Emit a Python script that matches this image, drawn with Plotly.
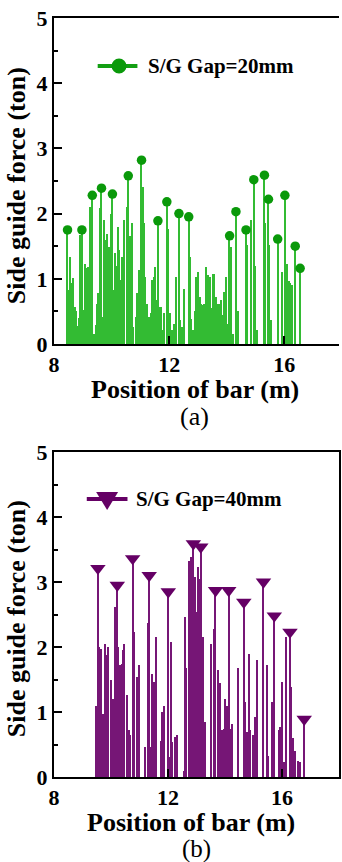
import plotly.graph_objects as go

# ---- S/G gap 20 mm: side guide force samples along the bar (m, ton) ----
gap20_pos = [8.49, 8.56, 8.63, 8.68, 8.72, 8.77, 8.82, 8.86, 8.92, 9.00, 9.04, 9.09,
             9.15, 9.20, 9.26, 9.40, 9.46, 9.51, 9.55, 9.61, 9.69, 9.73, 9.78, 9.85,
             9.90, 9.98, 10.07, 10.11, 10.15, 10.22, 10.28, 10.33, 10.38, 10.45, 10.53,
             10.63, 10.70, 10.76, 10.84, 10.90, 10.96, 11.08, 11.13, 11.18, 11.24, 11.30,
             11.36, 11.41, 11.47, 11.52, 11.56, 11.66, 11.71, 11.76, 11.82, 11.96, 12.00,
             12.04, 12.10, 12.17, 12.23, 12.38, 12.42, 12.46, 12.53, 12.73, 12.78, 12.83,
             12.89, 12.94, 13.00, 13.06, 13.11, 13.17, 13.23, 13.28, 13.32, 13.37, 13.41,
             13.48, 13.53, 13.58, 13.63, 13.69, 13.75, 13.80, 13.86, 13.92, 13.98, 14.04,
             14.14, 14.17, 14.21, 14.40, 14.71, 14.84, 14.98, 15.06, 15.34, 15.48, 15.54,
             15.91, 16.06, 16.10, 16.16, 16.22, 16.27]
gap20_force = [0.83, 1.34, 0.93, 1.01, 0.57, 0.50, 0.27, 0.40, 1.67, 0.52, 0.21, 1.22,
               1.16, 1.18, 2.10, 0.16, 0.29, 0.62, 0.78, 2.09, 0.42, 1.90, 1.60, 1.68,
               1.49, 2.00, 0.83, 1.39, 1.19, 1.80, 1.44, 0.98, 1.34, 1.90, 2.10,
               1.65, 1.85, 0.26, 0.42, 0.78, 1.14, 2.41, 1.85, 1.03, 0.62, 0.42,
               0.47, 0.98, 1.03, 1.18, 0.67, 0.57, 0.57, 0.21, 0.47, 1.77, 0.26,
               0.47, 0.21, 0.30, 1.03, 0.37, 0.16, 0.26, 0.85, 1.34, 0.39, 0.21,
               0.50, 1.03, 1.11, 0.72, 0.62, 0.60, 0.62, 1.18, 0.24, 1.06, 1.03,
               0.55, 1.08, 1.08, 0.72, 0.62, 0.62, 0.67, 0.45, 0.80, 1.03, 0.30,
               1.08, 1.49, 0.16, 0.50, 1.52, 1.90, 1.20, 0.21, 1.85, 1.52, 0.37,
               1.11, 1.03, 1.23, 0.96, 0.93, 0.90]
# local peaks of the 20 mm case (marked with circles)
gap20_peak_pos = [8.47, 8.97, 9.33, 9.65, 10.03, 10.58, 11.04, 11.61, 11.92, 12.34, 12.68,
                  14.10, 14.32, 14.67, 14.94, 15.31, 15.45, 15.77, 16.02, 16.38, 16.55]
gap20_peak_force = [1.75, 1.75, 2.28, 2.39, 2.30, 2.58, 2.82, 1.89, 2.18, 2.00, 1.95,
                    1.66, 2.03, 1.75, 2.52, 2.59, 2.22, 1.61, 2.28, 1.50, 1.16]

# ---- S/G gap 40 mm ----
gap40_pos = [9.49, 9.60, 9.64, 9.72, 9.78, 9.81, 9.86, 9.89, 10.01, 10.07, 10.13, 10.16,
             10.25, 10.30, 10.33, 10.39, 10.43, 10.47, 10.55, 10.62, 10.67, 10.81, 10.90,
             11.00, 11.20, 11.29, 11.39, 11.46, 11.52, 11.60, 11.75, 11.81, 11.87, 12.07,
             12.12, 12.16, 12.24, 12.31, 12.56, 12.60, 12.64, 12.74, 12.82, 12.95, 13.01,
             13.06, 13.10, 13.18, 13.24, 13.30, 13.53, 13.61, 13.75, 13.84, 13.90, 13.96,
             14.02, 14.07, 14.19, 14.25, 14.46, 14.72, 14.77, 14.83, 14.89, 15.00, 15.06,
             15.13, 15.47, 15.50, 15.64, 15.90, 15.94, 16.02, 16.08, 16.16, 16.32, 16.40,
             16.46, 16.57, 16.63]
gap40_force = [1.10, 2.00, 1.97, 0.97, 2.05, 0.97, 1.87, 2.00, 1.49, 1.20, 2.62, 2.05,
               2.00, 1.69, 1.72, 1.74, 1.95, 2.04, 1.26, 0.72, 0.64, 2.23, 1.54,
               1.72, 0.46, 2.37, 0.46, 1.59, 1.46, 2.15, 0.56, 1.00, 1.10, 0.31,
               2.08, 0.54, 0.62, 0.64, 0.10, 2.46, 1.67, 3.33, 3.38, 3.08, 2.54,
               3.23, 3.05, 3.38, 2.15, 0.85, 2.05, 2.28, 1.64, 1.44, 0.72, 0.74,
               1.20, 1.10, 0.74, 0.82, 1.67, 1.16, 0.70, 1.90, 0.72, 0.64, 0.93,
               1.80, 1.72, 0.33, 1.15, 0.72, 0.77, 1.46, 0.23, 2.15, 1.39, 0.60,
               0.40, 0.25, 0.23]
gap40_peak_pos = [9.54, 10.22, 10.76, 11.34, 12.01, 12.89, 13.15, 13.67, 14.13, 14.66,
                  15.35, 15.73, 16.28, 16.78]
gap40_peak_force = [3.21, 2.95, 3.36, 3.10, 2.85, 3.59, 3.54, 2.87, 2.87, 2.69,
                    3.00, 2.48, 2.23, 0.89]

series_names = ["S/G Gap=20mm", "S/G Gap=40mm"]

GREEN_BAR, GREEN_MK = "#33bb33", "#0a990a"
PURPLE_BAR, PURPLE_MK = "#761676", "#650065"
SERIF = "Liberation Serif"
BAR_W = 0.045

W, H = 342, 862
ML, MR, MT, MB = 54, 1, 18, 85
PW, PH = W - ML - MR, H - MT - MB


def px_x(px):
    """Horizontal pixel -> paper fraction."""
    return (px - ML) / PW


def px_y(py):
    """Vertical pixel (from top) -> paper fraction."""
    return (H - MB - py) / PH


fig = go.Figure()

# 20 mm: stems (samples + peaks) and peak circles
fig.add_trace(go.Bar(x=gap20_pos + gap20_peak_pos, y=gap20_force + gap20_peak_force,
                     width=BAR_W, marker=dict(color=GREEN_BAR, line=dict(width=0)),
                     name=series_names[0], xaxis="x", yaxis="y"))
fig.add_trace(go.Scatter(x=gap20_peak_pos, y=gap20_peak_force, mode="markers",
                         marker=dict(symbol="circle", size=9.5, color=GREEN_MK),
                         name=series_names[0], xaxis="x", yaxis="y"))

# 40 mm: stems and peak triangles
fig.add_trace(go.Bar(x=gap40_pos + gap40_peak_pos, y=gap40_force + gap40_peak_force,
                     width=BAR_W, marker=dict(color=PURPLE_BAR, line=dict(width=0)),
                     name=series_names[1], xaxis="x2", yaxis="y2"))
fig.add_trace(go.Scatter(x=gap40_peak_pos, y=gap40_peak_force, mode="markers",
                         marker=dict(symbol="triangle-down", size=13.5, color=PURPLE_MK),
                         name=series_names[1], xaxis="x2", yaxis="y2"))

tick_font = dict(family=SERIF, size=22, color="black", weight="bold")
common_x = dict(tickvals=[8, 12, 16], ticks="inside", ticklen=8, tickwidth=2,
                tickcolor="black", showline=True, linewidth=2, linecolor="black",
                showgrid=False, zeroline=False, tickfont=tick_font, mirror=True)
common_y = dict(range=[0, 5], dtick=1, ticks="inside", ticklen=8, tickwidth=2,
                tickcolor="black", showline=True, linewidth=2, linecolor="black",
                showgrid=False, zeroline=False, tickfont=tick_font,
                minor=dict(dtick=0.5, ticks="inside", ticklen=4, tickwidth=1.5,
                           tickcolor="black", showgrid=False))

fig.update_layout(
    width=W, height=H,
    margin=dict(l=ML, r=MR, t=MT, b=MB),
    plot_bgcolor="white", paper_bgcolor="white",
    barmode="overlay", bargap=0, showlegend=False,
    xaxis=dict(domain=[0, 1], anchor="y", range=[8, 17.9], **common_x),
    yaxis=dict(domain=[px_y(344), 1], anchor="x", mirror=False, **common_y),
    xaxis2=dict(domain=[0, 1], anchor="y2", range=[8, 18], **common_x),
    yaxis2=dict(domain=[0, px_y(452)], anchor="x2", mirror=True, **common_y),
)

# legend boxes: line + symbol + label, placed in the upper-left of each panel
legend_font = dict(family=SERIF, size=21, color="black", weight="bold")
shapes = [
    dict(type="line", xref="paper", yref="paper", x0=px_x(98), x1=px_x(138),
         y0=px_y(66), y1=px_y(66), line=dict(color="#139f13", width=4)),
    dict(type="circle", xref="paper", yref="paper", xsizemode="pixel", ysizemode="pixel",
         xanchor=px_x(119.5), yanchor=px_y(66), x0=-7.5, x1=7.5, y0=-7.5, y1=7.5,
         fillcolor=GREEN_MK, line=dict(width=0)),
    dict(type="line", xref="paper", yref="paper", x0=px_x(87), x1=px_x(128),
         y0=px_y(499), y1=px_y(499), line=dict(color=PURPLE_MK, width=4)),
    dict(type="path", xref="paper", yref="paper", xsizemode="pixel", ysizemode="pixel",
         xanchor=px_x(107.5), yanchor=px_y(499), path="M-11,7 L11,7 L0,-11 Z",
         fillcolor=PURPLE_MK, line=dict(width=0)),
]
fig.update_layout(shapes=shapes)

title_font = dict(family=SERIF, size=26, color="black", weight="bold")
notes = [
    dict(text=series_names[0], x=px_x(147), y=px_y(66), font=legend_font, xanchor="left"),
    dict(text=series_names[1], x=px_x(135), y=px_y(499), font=legend_font, xanchor="left"),
    dict(text="Position of bar (m)", x=px_x(196), y=px_y(389), font=title_font),
    dict(text="(a)", x=px_x(195), y=px_y(416), font=dict(family=SERIF, size=26, color="black")),
    dict(text="Side guide force (ton)", x=px_x(16), y=px_y(186), font=title_font, textangle=-90),
    dict(text="Position of bar (m)", x=px_x(192), y=px_y(822), font=title_font),
    dict(text="(b)", x=px_x(197), y=px_y(848.5), font=dict(family=SERIF, size=25, color="black")),
    dict(text="Side guide force (ton)", x=px_x(16), y=px_y(619), font=title_font, textangle=-90),
]
for n in notes:
    n.setdefault("xanchor", "center")
    fig.add_annotation(xref="paper", yref="paper", showarrow=False, yanchor="middle", **n)

fig.write_html("out.html")
